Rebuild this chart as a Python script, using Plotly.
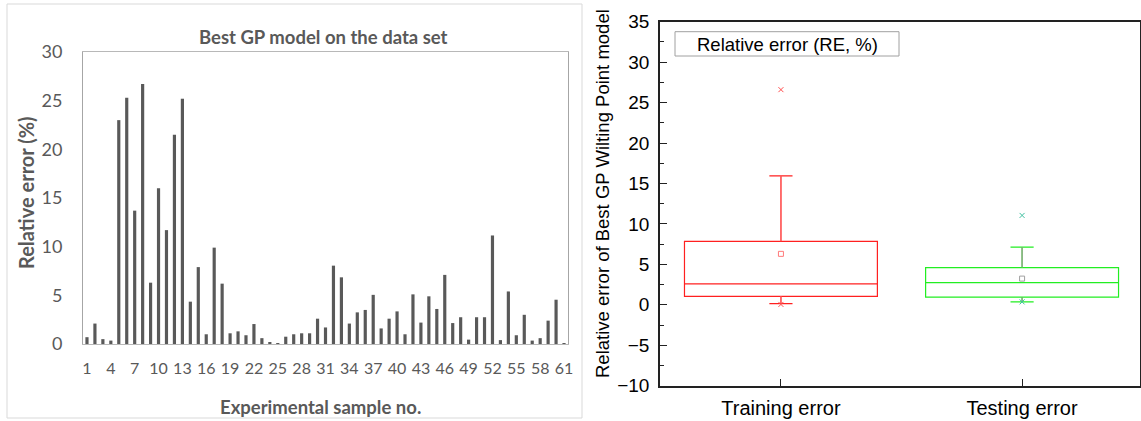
import plotly.graph_objects as go

# ---------------- data ----------------
samples = list(range(1, 62))
rel_error = [0.7, 2.1, 0.5, 0.35, 23.0, 25.3, 13.7, 26.7, 6.3, 16.0,
             11.7, 21.5, 25.2, 4.35, 7.9, 1.0, 9.9, 6.2, 1.1, 1.3,
             0.9, 2.05, 0.6, 0.15, 0.1, 0.75, 1.0, 1.1, 1.1, 2.6,
             1.7, 8.05, 6.85, 2.1, 3.25, 3.5, 5.05, 1.6, 2.6, 3.35,
             1.0, 5.1, 2.2, 4.9, 3.6, 7.1, 2.15, 2.75, 0.45, 2.75,
             2.75, 11.15, 0.4, 5.4, 0.9, 3.0, 0.35, 0.6, 2.4, 4.55,
             0.05]
sample_ticks = list(range(1, 62, 3))

box_names = ["Training error", "Testing error"]
box_pos = [1, 2]
box_q1 = [1.05, 0.94]
box_median = [2.6, 2.75]
box_q3 = [7.85, 4.6]
box_low = [0.15, 0.36]
box_high = [15.95, 7.14]
box_mean = [6.3, 3.24]
box_min = [0.05, 0.36]
box_max = [26.6, 11.05]
box_colors = ["#ff2020", "#22ee22"]
whisker_colors = ["#ff6a6a", "#9a9a90"]
mean_colors = ["#ff7a7a", "#a0a0a0"]
outlier_colors = ["#ff5050", "#40c0a0"]

W, H = 1141, 421
def px(x):
    return x / W
def py(y):
    return 1 - y / H

fig = go.Figure()

# ---------------- left: bar chart ----------------
fig.add_trace(go.Bar(x=samples, y=rel_error, marker=dict(color="#595959", line=dict(width=0)),
                     xaxis="x", yaxis="y", showlegend=False))

# ---------------- right: box plot ----------------
for i in range(2):
    fig.add_trace(go.Box(
        x=[box_pos[i]], q1=[box_q1[i]], median=[box_median[i]], q3=[box_q3[i]],
        lowerfence=[box_low[i]], upperfence=[box_high[i]],
        width=0.8, whiskerwidth=0.12, boxpoints=False,
        line=dict(color=box_colors[i], width=1.2), fillcolor="rgba(0,0,0,0)",
        xaxis="x2", yaxis="y2", showlegend=False))
    # whisker stems
    fig.add_trace(go.Scatter(
        x=[box_pos[i], box_pos[i], None, box_pos[i], box_pos[i]],
        y=[box_q3[i], box_high[i], None, box_q1[i], box_low[i]],
        mode="lines", line=dict(color=whisker_colors[i], width=1.2),
        xaxis="x2", yaxis="y2", showlegend=False))
    fig.add_trace(go.Scatter(
        x=[box_pos[i]], y=[box_mean[i]], mode="markers",
        marker=dict(symbol="square-open", size=5, color=mean_colors[i], line=dict(width=1)),
        xaxis="x2", yaxis="y2", showlegend=False))
    fig.add_trace(go.Scatter(
        x=[box_pos[i], box_pos[i]], y=[box_min[i], box_max[i]], mode="markers",
        marker=dict(symbol="x-thin-open", size=5, color=outlier_colors[i], line=dict(width=1, color=outlier_colors[i])),
        xaxis="x2", yaxis="y2", showlegend=False))

left_font = dict(family="Lato, 'Open Sans', sans-serif", color="#595959")
right_font = dict(family="'Liberation Sans', Arial, sans-serif", color="#000000")

fig.update_layout(
    width=W, height=H,
    margin=dict(l=0, r=0, t=0, b=0, autoexpand=False),
    paper_bgcolor="white", plot_bgcolor="white",
    bargap=0.6,
    xaxis=dict(domain=[px(83), px(568)], range=[0.5, 61.5], tickmode="array", tickvals=sample_ticks,
               ticks="", showline=True, mirror=True, linecolor="#b8b8b8", linewidth=1, automargin=False,
               showgrid=False, zeroline=False, tickfont=dict(size=16, **left_font), ticklabelstandoff=10),
    yaxis=dict(domain=[py(344), py(52)], range=[0, 30], dtick=5, ticks="", automargin=False,
               showline=True, mirror=True, linecolor="#a6a6a6", linewidth=1,
               showgrid=False, zeroline=False, tickfont=dict(size=18, **left_font), ticklabelstandoff=16),
    xaxis2=dict(domain=[px(660), px(1140)], range=[0.4985, 2.489], tickmode="array", tickvals=box_pos,
                ticktext=box_names, ticks="inside", ticklen=7, tickwidth=1.2, tickcolor="#222",
                showline=True, mirror=True, linecolor="#222", linewidth=1.5, automargin=False,
                showgrid=False, zeroline=False, tickfont=dict(size=20, **right_font), ticklabelstandoff=4,
                anchor="y2"),
    yaxis2=dict(domain=[py(385.7), py(21.7)], range=[-10, 35], tick0=-10, dtick=5,
                ticks="inside", ticklen=7, tickwidth=1.2, tickcolor="#222", automargin=False,
                minor=dict(dtick=2.5, tick0=-10, ticks="inside", ticklen=4, tickwidth=1.2, tickcolor="#222"),
                showline=True, mirror=True, linecolor="#222", linewidth=1.5,
                showgrid=False, zeroline=False, tickfont=dict(size=19, **right_font), ticklabelstandoff=5,
                anchor="x2"),
    xaxis3=dict(domain=[px(660), px(1140)], range=[0.4985, 2.489], overlaying="x2", side="top",
                anchor="y2", tick0=0.5, dtick=0.4, ticks="inside", ticklen=6, tickwidth=1.2, tickcolor="#222",
                minor=dict(tick0=0.5, dtick=0.2, ticks="inside", ticklen=3, tickwidth=1.2, tickcolor="#222"),
                showticklabels=False, showline=False, showgrid=False, zeroline=False, automargin=False),
    yaxis3=dict(domain=[py(385.7), py(21.7)], range=[-10, 35], overlaying="y2", side="right",
                anchor="x2", tick0=-10, dtick=9, ticks="inside", ticklen=7, tickwidth=1.2, tickcolor="#222",
                minor=dict(tick0=-10, dtick=4.5, ticks="inside", ticklen=4, tickwidth=1.2, tickcolor="#222"),
                showticklabels=False, showline=False, showgrid=False, zeroline=False, automargin=False),
    shapes=[
        dict(type="rect", xref="paper", yref="paper", x0=px(7), x1=px(582), y0=py(418), y1=py(4),
             line=dict(color="#d9d9d9", width=1), layer="below"),
        dict(type="rect", xref="paper", yref="paper", x0=px(675), x1=px(899), y0=py(56), y1=py(31.7),
             line=dict(color="#a0a0a0", width=1)),
    ],
    annotations=[
        dict(text="<b>Best GP model on the data set</b>", xref="paper", yref="paper",
             x=px(323), y=py(37), xanchor="center", yanchor="middle",
             showarrow=False, font=dict(size=18.5, **left_font)),
        dict(text="<b>Experimental sample no.</b>", xref="paper", yref="paper",
             x=px(320), y=py(407), xanchor="center", yanchor="middle",
             showarrow=False, font=dict(size=18.5, **left_font)),
        dict(text="<b>Relative error (%)</b>", xref="paper", yref="paper", textangle=-90,
             x=px(26), y=py(193), xanchor="center", yanchor="middle",
             showarrow=False, font=dict(size=20, **left_font)),
        dict(text="Relative error of Best GP Wilting Point model", xref="paper", yref="paper", textangle=-90,
             x=px(602), y=py(194), xanchor="center", yanchor="middle",
             showarrow=False, font=dict(size=18.5, **right_font)),
        dict(text="Relative error (RE, %)", xref="paper", yref="paper",
             x=px(787), y=py(44), xanchor="center", yanchor="middle",
             showarrow=False, font=dict(size=18.5, **right_font)),
    ],
)

fig.write_html("out.html")
